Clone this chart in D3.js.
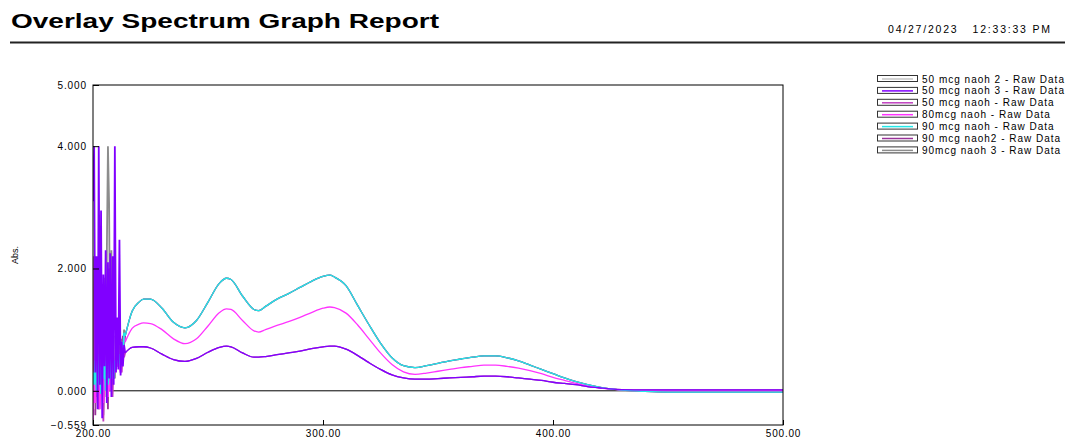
<!DOCTYPE html>
<html>
<head>
<meta charset="utf-8">
<script src="https://cdn.jsdelivr.net/npm/d3@7"></script>
<style>
  html, body { margin: 0; padding: 0; background: #fff; }
  svg { display: block; }
  text { font-family: "Liberation Sans", Arial, Helvetica, sans-serif; fill: #000; }
</style>
</head>
<body>
<svg id="chart" width="1065" height="439"></svg>
<script>
// ---- Report header ----
const reportTitle = "Overlay Spectrum Graph Report";
const reportStamp = "04/27/2023   12:33:33 PM";

// ---- Axes ----
const yTicks = [5.0, 4.0, 2.0, 0.0, -0.559];
const xTicks = [200, 300, 400, 500];
const yLabel = "Abs.";

// ---- Series names and colours (legend order) ----
const seriesNames = [
  "50 mcg naoh 2 - Raw Data",
  "50 mcg naoh 3 - Raw Data",
  "50 mcg naoh - Raw Data",
  "80mcg naoh - Raw Data",
  "90 mcg naoh - Raw Data",
  "90 mcg naoh2 - Raw Data",
  "90mcg naoh 3 - Raw Data"
];
const seriesColors = ["#c4c4c4", "#8000ff", "#c040c0", "#ff33ff", "#22e8e8", "#993399", "#8c8c8c"];
// which smooth profile each series follows beyond the noisy UV edge
const seriesGroup = ["50", "50", "50", "80", "90", "90", "90"];

// ---- Noisy region near the detector cutoff (nm, 0.5 nm steps) ----
const nmNoise = [200, 200.5, 201, 201.5, 202, 202.5, 203, 203.5, 204, 204.5, 205, 205.5,
                 206, 206.5, 207, 207.5, 208, 208.5, 209, 209.5, 210, 210.5, 211, 211.5,
                 212, 212.5, 213, 213.5, 214];
const noise50_2 = [0.20, -0.30, 0.80, 0.10, 1.40, -0.20, 0.60, 0.00, 1.10, 0.30, 0.50, -0.10,
                   0.90, 0.20, 1.60, 0.40, 0.70, 0.30, 0.90, 0.50, 0.60, 0.40, 0.50, 0.45,
                   0.30, 0.70, 0.45, 0.65, 0.62];
const noise50_3 = [3.10, 4.00, 0.30, 2.20, -0.30, 4.00, 0.10, 2.95, -0.45, 1.90, 0.40, 2.30,
                   -0.20, 2.10, 0.20, 2.25, -0.10, 2.20, 0.10, 4.00, 0.30, 1.20, 0.35, 2.47,
                   0.25, 0.80, 0.40, 0.75, 0.62];
const noise50_1 = [-0.50, 2.20, -0.20, 0.40, 1.00, -0.30, 0.70, 0.20, 1.50, -0.50, 0.30, 0.90,
                   0.10, 1.20, 0.00, 0.60, 1.80, -0.10, 0.50, 0.30, 0.70, 0.40, 0.60, 0.50,
                   0.50, 0.30, 0.75, 0.55, 0.62];
const noise80   = [-0.45, 0.30, -0.20, 0.50, 0.00, 0.40, -0.30, 0.20, 0.60, -0.20, 0.30, 0.10,
                   0.50, -0.10, 0.40, 0.00, 0.30, 0.20, 0.50, 0.30, 0.60, 0.40, 0.50, 0.40,
                   0.30, 0.75, 0.55, 0.90, 0.80];
const noise90_1 = [0.30, 0.10, 0.50, 0.00, 0.60, 0.10, 0.40, -0.05, 0.60, 0.20, 0.50, 0.00,
                   0.70, 0.10, 0.40, 0.20, 0.60, 0.30, 0.20, 0.50, 0.35, 0.70, 0.45, 0.60,
                   0.40, 0.80, 0.55, 0.95, 0.90];
const noise90_2 = [0.10, 1.30, -0.40, 0.80, 0.20, 1.90, -0.10, 0.50, 0.90, 0.00, 1.40, 0.20,
                   0.60, -0.30, 2.00, 0.30, 0.50, 0.90, 0.20, 0.60, 0.40, 0.80, 0.50, 0.60,
                   0.50, 0.70, 0.90, 0.75, 0.90];
const noise90_3 = [0.00, -0.20, 0.60, -0.10, 0.30, -0.30, 1.00, 0.10, 0.50, -0.40, 1.85, 0.20,
                   2.20, 4.00, 3.05, 0.30, 2.30, 0.40, 0.90, 0.20, 0.70, 0.50, 0.90, 0.60,
                   0.35, 0.85, 0.60, 1.00, 0.90];
const seriesNoise = [noise50_2, noise50_3, noise50_1, noise80, noise90_1, noise90_2, noise90_3];

// ---- Smooth absorbance profiles (nm) ----
const nmSmooth = [214, 217, 220, 222, 225, 230, 235, 240, 245, 250, 255, 258, 260, 265,
                  270, 272, 275, 280, 285, 290, 295, 300, 303, 305, 310, 315, 320, 325, 330,
                  335, 340, 345, 350, 355, 360, 365, 370, 375, 380, 385, 390, 395, 400, 405,
                  410, 415, 420, 425, 430, 440, 450, 460, 470, 480, 490, 500];
const abs50 = [0.62, 0.71, 0.72, 0.72, 0.70, 0.60, 0.51, 0.48, 0.53, 0.63, 0.71, 0.73, 0.72, 0.62,
               0.55, 0.55, 0.56, 0.59, 0.62, 0.65, 0.69, 0.72, 0.73, 0.73, 0.68, 0.58, 0.46, 0.35, 0.26,
               0.21, 0.19, 0.19, 0.20, 0.21, 0.22, 0.23, 0.24, 0.24, 0.23, 0.21, 0.19, 0.17, 0.14, 0.12,
               0.10, 0.07, 0.05, 0.03, 0.02, 0.015, 0.015, 0.015, 0.015, 0.015, 0.015, 0.015];
const abs80 = [0.80, 1.02, 1.09, 1.11, 1.10, 1.00, 0.85, 0.77, 0.85, 1.06, 1.28, 1.34, 1.33, 1.15,
               0.98, 0.96, 1.00, 1.07, 1.13, 1.20, 1.28, 1.35, 1.37, 1.36, 1.27, 1.08, 0.85, 0.62, 0.43,
               0.31, 0.27, 0.29, 0.32, 0.35, 0.38, 0.40, 0.42, 0.42, 0.40, 0.37, 0.33, 0.28, 0.22, 0.17,
               0.12, 0.08, 0.05, 0.03, 0.01, 0.00, 0.00, 0.00, 0.00, 0.00, 0.00, 0.00];
const abs90 = [0.90, 1.30, 1.45, 1.50, 1.50, 1.35, 1.12, 1.03, 1.15, 1.45, 1.76, 1.84, 1.82, 1.55,
               1.33, 1.31, 1.38, 1.50, 1.59, 1.69, 1.79, 1.87, 1.89, 1.86, 1.72, 1.40, 1.08, 0.78, 0.54,
               0.41, 0.38, 0.41, 0.45, 0.49, 0.52, 0.55, 0.57, 0.57, 0.54, 0.49, 0.42, 0.35, 0.28, 0.21,
               0.15, 0.10, 0.06, 0.03, 0.01, -0.01, -0.02, -0.02, -0.02, -0.02, -0.02, -0.02];
const profiles = { "50": abs50, "80": abs80, "90": abs90 };

// drawing order: grey/purple traces underneath, violet and cyan on top
const drawOrder = [6, 5, 0, 2, 3, 4, 1];

// ---- Layout ----
const plot = { left: 93, right: 783, top: 85, bottom: 425 };
const fontStack = "\"Liberation Sans\", Arial, sans-serif";

const svg = d3.select("#chart");

const x = d3.scaleLinear().domain([200, 500]).range([plot.left, plot.right]);
const y = d3.scaleLinear().domain([-0.559, 5.0]).range([plot.bottom, plot.top]);

// Header
svg.append("text")
  .attr("x", 11).attr("y", 28)
  .attr("font-size", 21).attr("font-weight", "bold")
  .attr("textLength", 428).attr("lengthAdjust", "spacingAndGlyphs")
  .text(reportTitle);

svg.append("text")
  .attr("x", 888).attr("y", 33)
  .attr("font-size", 10.5)
  .attr("textLength", 162).attr("lengthAdjust", "spacing")
  .style("white-space", "pre")
  .text(reportStamp);

svg.append("line")
  .attr("x1", 10).attr("x2", 1065)
  .attr("y1", 42.5).attr("y2", 42.5)
  .attr("stroke", "#222").attr("stroke-width", 2);

// Clip to plotting area
svg.append("defs").append("clipPath").attr("id", "plotClip")
  .append("rect")
  .attr("x", plot.left).attr("y", plot.top)
  .attr("width", plot.right - plot.left)
  .attr("height", plot.bottom - plot.top);

// Zero line
svg.append("line")
  .attr("x1", plot.left).attr("x2", plot.right)
  .attr("y1", y(0)).attr("y2", y(0))
  .attr("stroke", "#000").attr("stroke-width", 1);

// Series
const gSeries = svg.append("g").attr("clip-path", "url(#plotClip)");
const noiseLine = d3.line().x(d => x(d[0])).y(d => y(d[1])).curve(d3.curveLinear);
const smoothLine = d3.line().x(d => x(d[0])).y(d => y(d[1])).curve(d3.curveMonotoneX);

drawOrder.forEach(i => {
  const noisePts = nmNoise.map((w, k) => [w, seriesNoise[i][k]]);
  const prof = profiles[seriesGroup[i]];
  const smoothPts = nmSmooth.map((w, k) => [w, prof[k]]);
  gSeries.append("path")
    .attr("d", noiseLine(noisePts))
    .attr("fill", "none")
    .attr("stroke", seriesColors[i])
    .attr("stroke-width", 1.8);
  gSeries.append("path")
    .attr("d", smoothLine(smoothPts))
    .attr("fill", "none")
    .attr("stroke", seriesColors[i])
    .attr("stroke-width", 1.3);
});

// Frame
svg.append("rect")
  .attr("x", plot.left).attr("y", plot.top)
  .attr("width", plot.right - plot.left)
  .attr("height", plot.bottom - plot.top)
  .attr("fill", "none").attr("stroke", "#000").attr("stroke-width", 1);

// Y axis
const yAxis = d3.axisLeft(y)
  .tickValues(yTicks)
  .tickSize(-6)
  .tickPadding(6)
  .tickFormat(d3.format(".3f"));
const gy = svg.append("g").attr("transform", `translate(${plot.left},0)`).call(yAxis);
gy.select(".domain").remove();
gy.selectAll(".tick line").attr("stroke", "#000");
gy.selectAll(".tick text")
  .attr("font-size", 10)
  .attr("letter-spacing", 0.9)
  .attr("font-family", fontStack)
  .attr("fill", "#000");

// X axis
const xAxis = d3.axisBottom(x)
  .tickValues(xTicks)
  .tickSize(-5)
  .tickPadding(5)
  .tickFormat(d3.format(".2f"));
const gx = svg.append("g").attr("transform", `translate(0,${plot.bottom})`).call(xAxis);
gx.select(".domain").remove();
gx.selectAll(".tick line").attr("stroke", "#000");
gx.selectAll(".tick text")
  .attr("font-size", 10)
  .attr("letter-spacing", 0.8)
  .attr("font-family", fontStack)
  .attr("fill", "#000");

// Y label
svg.append("text")
  .attr("transform", "translate(18,255) rotate(-90)")
  .attr("text-anchor", "middle")
  .attr("font-size", 9)
  .text(yLabel);

// Legend
const legend = svg.append("g").attr("transform", "translate(877,79)");
const rowH = 11.9;
seriesNames.forEach((name, i) => {
  const row = legend.append("g").attr("transform", `translate(0,${i * rowH})`);
  row.append("rect")
    .attr("x", 0.5).attr("y", -3.5)
    .attr("width", 40).attr("height", 6)
    .attr("fill", "#fff").attr("stroke", "#333").attr("stroke-width", 1);
  row.append("line")
    .attr("x1", 5).attr("x2", 36)
    .attr("y1", 0).attr("y2", 0)
    .attr("stroke", seriesColors[i]).attr("stroke-width", 1.5);
  row.append("text")
    .attr("x", 45).attr("y", 3.5)
    .attr("font-size", 10)
    .attr("letter-spacing", 1.0)
    .text(name);
});
</script>
</body>
</html>
